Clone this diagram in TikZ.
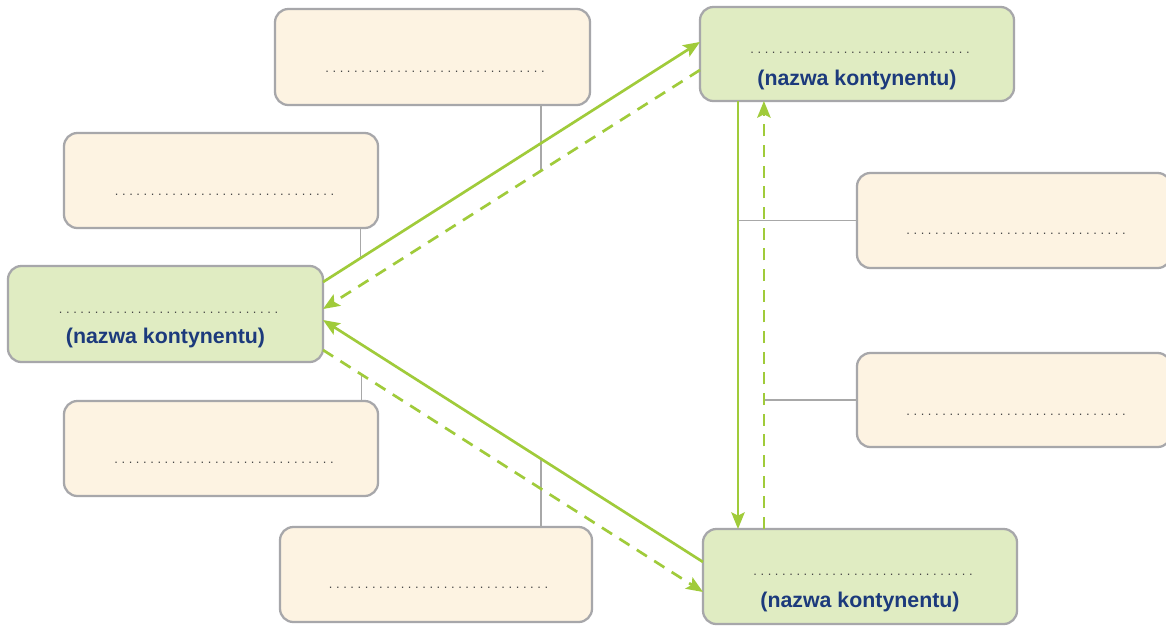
\documentclass[tikz,border=0pt]{standalone}
\usepackage{fontspec}
\setmainfont{Liberation Sans}
\usetikzlibrary{arrows.meta,calc}
\definecolor{gfill}{HTML}{E0ECC2}
\definecolor{bfill}{HTML}{FDF3E2}
\definecolor{bordergray}{HTML}{A7A7AA}
\definecolor{arrowgreen}{HTML}{A0CB3A}
\definecolor{navy}{HTML}{1C3A7C}
\definecolor{dotgray}{HTML}{474747}
\definecolor{linegray}{HTML}{A8A8A8}
\newcommand\dotrow{. . . . . . . . . . . . . . . . . . . . . . . . . . . . . . .}
\frenchspacing
\begin{document}
\begin{tikzpicture}[x=0.75pt,y=-0.75pt,
  box/.style={draw=bordergray, line width=1.7pt, rounded corners=10pt, inner sep=0pt, outer sep=0pt},
  contbox/.style={box, fill=gfill},
  infobox/.style={box, fill=bfill},
  dotlabel/.style={inner sep=0pt, font=\fontsize{9.7}{10}\selectfont\frenchspacing, text=dotgray},
  namelabel/.style={inner sep=0pt, font=\fontsize{16}{18}\selectfont\bfseries, text=navy},
  flow/.style={draw=arrowgreen, line width=2pt, -{Stealth[length=12.5pt,width=10pt,inset=2.5pt]}},
  backflow/.style={flow, dash pattern=on 9pt off 6.5pt},
  link/.style={draw=linegray, line width=0.8pt}]
\fill[white] (0,0) rectangle (1166,626);
\useasboundingbox (0,0) rectangle (1166,626);

% continent boxes
\node[contbox, minimum width=236.25pt, minimum height=72pt] (L) at (165.5,314) {};
\node[contbox, minimum width=235.5pt, minimum height=70.5pt] (TR) at (857,54) {};
\node[contbox, minimum width=235.5pt, minimum height=71.25pt] (BR) at (860,576.5) {};

% info boxes
\node[infobox, minimum width=236.25pt, minimum height=72pt] (T1) at (432.5,57) {};
\node[infobox, minimum width=235.5pt, minimum height=71.25pt] (T2) at (221,180.5) {};
\node[infobox, minimum width=235.5pt, minimum height=71.25pt] (B2) at (221,448.5) {};
\node[infobox, minimum width=234pt, minimum height=71.25pt] (B1) at (436,574.5) {};
\node[infobox, minimum width=235.5pt, minimum height=71.25pt] (R1) at (1014,220.5) {};
\node[infobox, minimum width=235.5pt, minimum height=70.5pt] (R2) at (1014,400) {};

% texts
\node[dotlabel] (Ld) at ($(L.center)+(3,-1)$) {\dotrow};
\node[namelabel] (Ln) at ($(L.center)+(0,24)$) {(nazwa kontynentu)};
\node[dotlabel] (TRd) at ($(TR.center)+(3,-1)$) {\dotrow};
\node[namelabel] (TRn) at ($(TR.center)+(0,26)$) {(nazwa kontynentu)};
\node[dotlabel] (BRd) at ($(BR.center)+(3,-1.5)$) {\dotrow};
\node[namelabel] (BRn) at ($(BR.center)+(0,25.5)$) {(nazwa kontynentu)};
\node[dotlabel] (T1d) at ($(T1.center)+(2.5,15)$) {\dotrow};
\node[dotlabel] (T2d) at ($(T2.center)+(3.5,14.5)$) {\dotrow};
\node[dotlabel] (B2d) at ($(B2.center)+(3,14.5)$) {\dotrow};
\node[dotlabel] (B1d) at ($(B1.center)+(2.5,13.5)$) {\dotrow};
\node[dotlabel] (R1d) at ($(R1.center)+(2,13.5)$) {\dotrow};
\node[dotlabel] (R2d) at ($(R2.center)+(2,15)$) {\dotrow};

% arrow end points
\coordinate (s1a) at ($(L.north east)!0.167!(L.south east)$);
\coordinate (s1b) at ($(TR.north west)!0.372!(TR.south west)$);
\coordinate (d1a) at ($(TR.north west)!0.67!(TR.south west)$);
\coordinate (d1b) at ($(L.north east)!0.448!(L.south east)$);
\coordinate (s2a) at ($(BR.north west)!0.347!(BR.south west)$);
\coordinate (s2b) at ($(L.north east)!0.5625!(L.south east)$);
\coordinate (d2a) at ($(L.north east)!0.875!(L.south east)$);
\coordinate (d2b) at ($(BR.north west)!0.663!(BR.south west)$);
\coordinate (v1a) at ($(TR.south west)!0.121!(TR.south east)$);
\coordinate (v2a) at ($(BR.north west)!0.194!(BR.north east)$);

% thin links
\coordinate (k1) at ($(d1a)!0.4218!(d1b)$);
\coordinate (k2) at ($(s1a)!0.0987!(s1b)$);
\coordinate (k3) at ($(d2a)!0.1003!(d2b)$);
\coordinate (k4) at ($(s2a)!0.4263!(s2b)$);
\draw[link] (k1 |- T1.south) -- (k1);
\draw[link] (k2 |- T2.south) -- (k2);
\draw[link] (k3) -- (k3 |- B2.north);
\draw[link] (k4) -- (k4 |- B1.north);
\draw[link] (R1.west) -- (R1.west -| v1a);
\draw[link] (R2.west) -- (R2.west -| v2a);

% arrows
\draw[flow] (s1a) -- (s1b);
\draw[backflow] (d1a) -- (d1b);
\draw[flow] (s2a) -- (s2b);
\draw[backflow] (d2a) -- (d2b);
\draw[flow] (v1a) -- (v1a |- BR.north);
\draw[backflow] (v2a) -- (v2a |- TR.south);
\end{tikzpicture}
\end{document}
